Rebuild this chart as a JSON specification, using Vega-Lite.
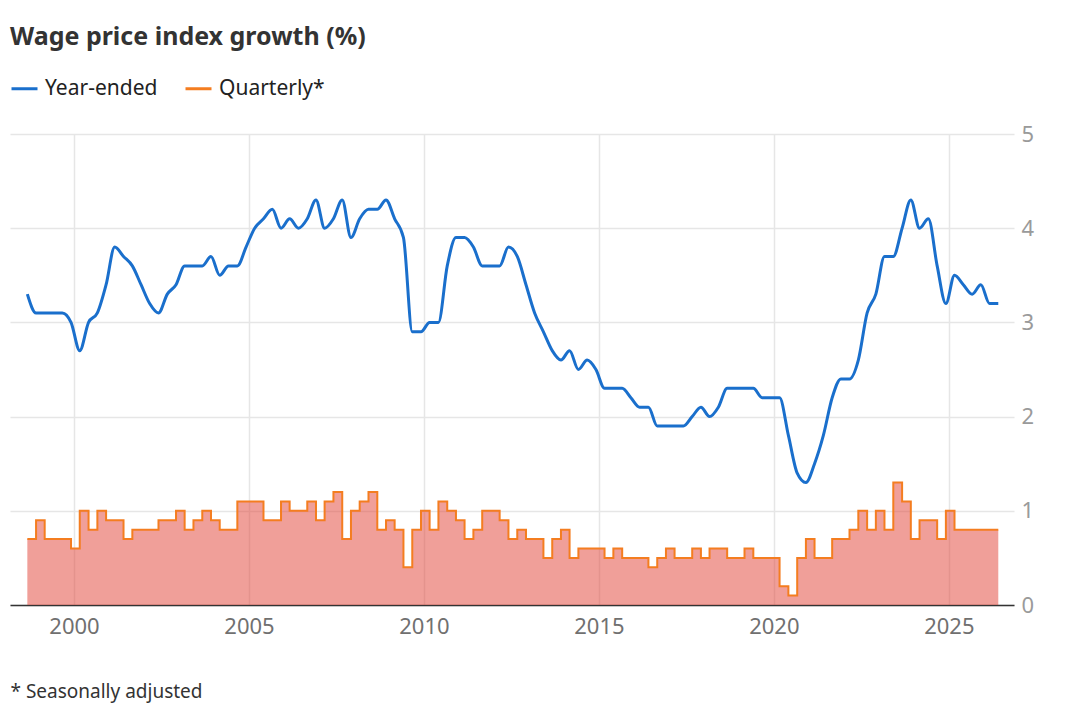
{
  "$schema": "https://vega.github.io/schema/vega-lite/v6.json",
  "width": 1004,
  "height": 471,
  "autosize": "none",
  "padding": {"left": 10, "top": 134, "right": 66, "bottom": 100},
  "background": "white",
  "title": {
    "text": "Wage price index growth (%)",
    "anchor": "start",
    "frame": "group",
    "font": "Noto Sans",
    "fontSize": 25,
    "fontWeight": "bold",
    "color": "#333333",
    "offset": 24
  },
  "data": {
    "values": [
      {"d": "1998-09-01", "ye": 3.3, "q": 0.7},
      {"d": "1998-12-01", "ye": 3.1, "q": 0.9},
      {"d": "1999-03-01", "ye": 3.1, "q": 0.7},
      {"d": "1999-06-01", "ye": 3.1, "q": 0.7},
      {"d": "1999-09-01", "ye": 3.1, "q": 0.7},
      {"d": "1999-12-01", "ye": 3.0, "q": 0.6},
      {"d": "2000-03-01", "ye": 2.7, "q": 1.0},
      {"d": "2000-06-01", "ye": 3.0, "q": 0.8},
      {"d": "2000-09-01", "ye": 3.1, "q": 1.0},
      {"d": "2000-12-01", "ye": 3.4, "q": 0.9},
      {"d": "2001-03-01", "ye": 3.8, "q": 0.9},
      {"d": "2001-06-01", "ye": 3.7, "q": 0.7},
      {"d": "2001-09-01", "ye": 3.6, "q": 0.8},
      {"d": "2001-12-01", "ye": 3.4, "q": 0.8},
      {"d": "2002-03-01", "ye": 3.2, "q": 0.8},
      {"d": "2002-06-01", "ye": 3.1, "q": 0.9},
      {"d": "2002-09-01", "ye": 3.3, "q": 0.9},
      {"d": "2002-12-01", "ye": 3.4, "q": 1.0},
      {"d": "2003-03-01", "ye": 3.6, "q": 0.8},
      {"d": "2003-06-01", "ye": 3.6, "q": 0.9},
      {"d": "2003-09-01", "ye": 3.6, "q": 1.0},
      {"d": "2003-12-01", "ye": 3.7, "q": 0.9},
      {"d": "2004-03-01", "ye": 3.5, "q": 0.8},
      {"d": "2004-06-01", "ye": 3.6, "q": 0.8},
      {"d": "2004-09-01", "ye": 3.6, "q": 1.1},
      {"d": "2004-12-01", "ye": 3.8, "q": 1.1},
      {"d": "2005-03-01", "ye": 4.0, "q": 1.1},
      {"d": "2005-06-01", "ye": 4.1, "q": 0.9},
      {"d": "2005-09-01", "ye": 4.2, "q": 0.9},
      {"d": "2005-12-01", "ye": 4.0, "q": 1.1},
      {"d": "2006-03-01", "ye": 4.1, "q": 1.0},
      {"d": "2006-06-01", "ye": 4.0, "q": 1.0},
      {"d": "2006-09-01", "ye": 4.1, "q": 1.1},
      {"d": "2006-12-01", "ye": 4.3, "q": 0.9},
      {"d": "2007-03-01", "ye": 4.0, "q": 1.1},
      {"d": "2007-06-01", "ye": 4.1, "q": 1.2},
      {"d": "2007-09-01", "ye": 4.3, "q": 0.7},
      {"d": "2007-12-01", "ye": 3.9, "q": 1.0},
      {"d": "2008-03-01", "ye": 4.1, "q": 1.1},
      {"d": "2008-06-01", "ye": 4.2, "q": 1.2},
      {"d": "2008-09-01", "ye": 4.2, "q": 0.8},
      {"d": "2008-12-01", "ye": 4.3, "q": 0.9},
      {"d": "2009-03-01", "ye": 4.1, "q": 0.8},
      {"d": "2009-06-01", "ye": 3.9, "q": 0.4},
      {"d": "2009-09-01", "ye": 2.9, "q": 0.8},
      {"d": "2009-12-01", "ye": 2.9, "q": 1.0},
      {"d": "2010-03-01", "ye": 3.0, "q": 0.8},
      {"d": "2010-06-01", "ye": 3.0, "q": 1.1},
      {"d": "2010-09-01", "ye": 3.6, "q": 1.0},
      {"d": "2010-12-01", "ye": 3.9, "q": 0.9},
      {"d": "2011-03-01", "ye": 3.9, "q": 0.7},
      {"d": "2011-06-01", "ye": 3.8, "q": 0.8},
      {"d": "2011-09-01", "ye": 3.6, "q": 1.0},
      {"d": "2011-12-01", "ye": 3.6, "q": 1.0},
      {"d": "2012-03-01", "ye": 3.6, "q": 0.9},
      {"d": "2012-06-01", "ye": 3.8, "q": 0.7},
      {"d": "2012-09-01", "ye": 3.7, "q": 0.8},
      {"d": "2012-12-01", "ye": 3.4, "q": 0.7},
      {"d": "2013-03-01", "ye": 3.1, "q": 0.7},
      {"d": "2013-06-01", "ye": 2.9, "q": 0.5},
      {"d": "2013-09-01", "ye": 2.7, "q": 0.7},
      {"d": "2013-12-01", "ye": 2.6, "q": 0.8},
      {"d": "2014-03-01", "ye": 2.7, "q": 0.5},
      {"d": "2014-06-01", "ye": 2.5, "q": 0.6},
      {"d": "2014-09-01", "ye": 2.6, "q": 0.6},
      {"d": "2014-12-01", "ye": 2.5, "q": 0.6},
      {"d": "2015-03-01", "ye": 2.3, "q": 0.5},
      {"d": "2015-06-01", "ye": 2.3, "q": 0.6},
      {"d": "2015-09-01", "ye": 2.3, "q": 0.5},
      {"d": "2015-12-01", "ye": 2.2, "q": 0.5},
      {"d": "2016-03-01", "ye": 2.1, "q": 0.5},
      {"d": "2016-06-01", "ye": 2.1, "q": 0.4},
      {"d": "2016-09-01", "ye": 1.9, "q": 0.5},
      {"d": "2016-12-01", "ye": 1.9, "q": 0.6},
      {"d": "2017-03-01", "ye": 1.9, "q": 0.5},
      {"d": "2017-06-01", "ye": 1.9, "q": 0.5},
      {"d": "2017-09-01", "ye": 2.0, "q": 0.6},
      {"d": "2017-12-01", "ye": 2.1, "q": 0.5},
      {"d": "2018-03-01", "ye": 2.0, "q": 0.6},
      {"d": "2018-06-01", "ye": 2.1, "q": 0.6},
      {"d": "2018-09-01", "ye": 2.3, "q": 0.5},
      {"d": "2018-12-01", "ye": 2.3, "q": 0.5},
      {"d": "2019-03-01", "ye": 2.3, "q": 0.6},
      {"d": "2019-06-01", "ye": 2.3, "q": 0.5},
      {"d": "2019-09-01", "ye": 2.2, "q": 0.5},
      {"d": "2019-12-01", "ye": 2.2, "q": 0.5},
      {"d": "2020-03-01", "ye": 2.2, "q": 0.2},
      {"d": "2020-06-01", "ye": 1.8, "q": 0.1},
      {"d": "2020-09-01", "ye": 1.4, "q": 0.5},
      {"d": "2020-12-01", "ye": 1.3, "q": 0.7},
      {"d": "2021-03-01", "ye": 1.5, "q": 0.5},
      {"d": "2021-06-01", "ye": 1.8, "q": 0.5},
      {"d": "2021-09-01", "ye": 2.2, "q": 0.7},
      {"d": "2021-12-01", "ye": 2.4, "q": 0.7},
      {"d": "2022-03-01", "ye": 2.4, "q": 0.8},
      {"d": "2022-06-01", "ye": 2.6, "q": 1.0},
      {"d": "2022-09-01", "ye": 3.1, "q": 0.8},
      {"d": "2022-12-01", "ye": 3.3, "q": 1.0},
      {"d": "2023-03-01", "ye": 3.7, "q": 0.8},
      {"d": "2023-06-01", "ye": 3.7, "q": 1.3},
      {"d": "2023-09-01", "ye": 4.0, "q": 1.1},
      {"d": "2023-12-01", "ye": 4.3, "q": 0.7},
      {"d": "2024-03-01", "ye": 4.0, "q": 0.9},
      {"d": "2024-06-01", "ye": 4.1, "q": 0.9},
      {"d": "2024-09-01", "ye": 3.6, "q": 0.7},
      {"d": "2024-12-01", "ye": 3.2, "q": 1.0},
      {"d": "2025-03-01", "ye": 3.5, "q": 0.8},
      {"d": "2025-06-01", "ye": 3.4, "q": 0.8},
      {"d": "2025-09-01", "ye": 3.3, "q": 0.8},
      {"d": "2025-12-01", "ye": 3.4, "q": 0.8},
      {"d": "2026-03-01", "ye": 3.2, "q": 0.8},
      {"d": "2026-06-01", "ye": 3.2, "q": 0.8}
    ]
  },
  "encoding": {
    "x": {
      "field": "d",
      "type": "temporal",
      "scale": {
        "type": "utc",
        "domain": [
          {"year": 1998, "month": 3, "date": 4, "utc": true},
          {"year": 2026, "month": 11, "date": 12, "utc": true}
        ]
      },
      "axis": {
        "values": [
          {"year": 2000, "utc": true},
          {"year": 2005, "utc": true},
          {"year": 2010, "utc": true},
          {"year": 2015, "utc": true},
          {"year": 2020, "utc": true},
          {"year": 2025, "utc": true}
        ],
        "format": "%Y",
        "title": "* Seasonally adjusted",
        "titleAnchor": "start",
        "titleAlign": "left",
        "titleX": 0,
        "titleY": 92,
        "titleBaseline": "alphabetic",
        "titleFontSize": 19,
        "titleFontWeight": "normal",
        "titleColor": "#333333",
        "labelFontSize": 22,
        "labelColor": "#707070",
        "labelPadding": 11,
        "ticks": false,
        "domainColor": "#333333",
        "domainWidth": 1.5,
        "grid": true,
        "gridColor": "#e6e6e6",
        "gridWidth": 1.5
      }
    },
    "y": {
      "type": "quantitative",
      "scale": {"domain": [0, 5]},
      "axis": {
        "orient": "right",
        "values": [0, 1, 2, 3, 4, 5],
        "title": null,
        "domain": false,
        "ticks": false,
        "labelFontSize": 22,
        "labelColor": "#9a9a9a",
        "labelPadding": 7,
        "gridColor": "#e6e6e6",
        "gridWidth": 1.5
      }
    }
  },
  "layer": [
    {
      "mark": {"type": "area", "interpolate": "step-after", "fill": "#e2463c", "fillOpacity": 0.52},
      "encoding": {"y": {"field": "q", "type": "quantitative"}}
    },
    {
      "mark": {"type": "line", "interpolate": "step-after", "strokeWidth": 2},
      "encoding": {
        "y": {"field": "q", "type": "quantitative"},
        "stroke": {"datum": "Quarterly*"}
      }
    },
    {
      "mark": {"type": "line", "interpolate": "monotone", "strokeWidth": 3},
      "encoding": {
        "y": {"field": "ye", "type": "quantitative"},
        "stroke": {
          "datum": "Year-ended",
          "scale": {"domain": ["Year-ended", "Quarterly*"], "range": ["#1a6fcc", "#f47d20"]},
          "legend": {
            "orient": "none",
            "legendX": 0,
            "legendY": -60,
            "direction": "horizontal",
            "title": null,
            "symbolType": "stroke",
            "symbolSize": 676,
            "symbolStrokeWidth": 3,
            "labelFontSize": 21,
            "labelColor": "#222222",
            "labelOffset": 6,
            "columnPadding": 21,
            "padding": 0
          }
        }
      }
    }
  ],
  "config": {
    "font": "Noto Sans",
    "view": {"stroke": null}
  }
}
